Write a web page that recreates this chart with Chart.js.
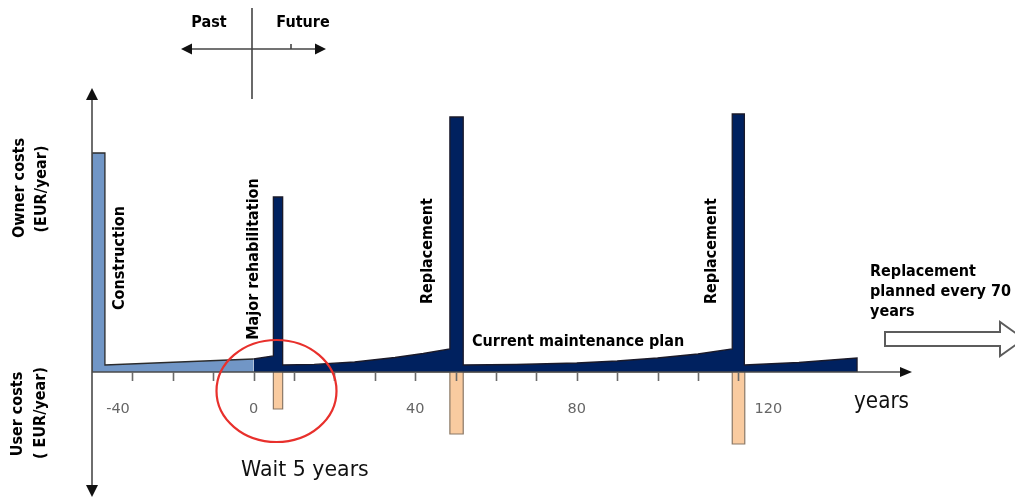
<!DOCTYPE html>
<html><head><meta charset="utf-8">
<script src="https://cdn.jsdelivr.net/npm/chart.js@4.4.0/dist/chart.umd.min.js"></script>
<style>html,body{margin:0;padding:0;background:#fff;overflow:hidden}#wrap{width:1015px;height:502px;position:relative}</style>
</head><body><div id="wrap"><canvas id="c" width="1015" height="502"></canvas></div>
<script>
// ---- data (years / cost in arbitrary units) ----
const constructionYears = [-40, -40, -36.8, -36.8, 0];
const constructionCost  = [0, 219, 219, 7, 13];
const futureYears = [0, 4.9, 4.9, 7.2, 7.2, 15, 25, 35, 42, 48.6, 48.6, 51.9, 51.9, 65, 80, 90, 100, 110, 118.5, 118.5, 121.5, 121.5, 135, 149.4, 149.4];
const futureCost  = [13, 16, 175, 175, 7, 7.6, 10, 14.5, 18.5, 23, 255, 255, 7, 7.5, 9, 11, 14, 18, 23, 258, 258, 7, 9.5, 14, 0];
const userStart = [4.9, 48.6, 118.5];
const userEnd   = [7.2, 51.9, 121.6];
const userCost  = [37, 62, 72];
const tickYears = [-30, -20, -10, 0, 10, 20, 30, 40, 50, 60, 70, 80, 90, 100, 110, 120];
const tickLabels = ['-40', '0', '40', '80', '120'];
const tickLabelYears = [-40, 0, 40, 80, 120];

// ---- build point tables ----
const pts = (xs, ys) => xs.map((x, i) => ({x: x, y: ys[i]}));
const userPts = [];
userStart.forEach((s, i) => {
  userPts.push({x: s, y: 0}, {x: s, y: -userCost[i]}, {x: userEnd[i], y: -userCost[i]}, {x: userEnd[i], y: 0});
});

const CB = '"DejaVu Sans Condensed", "DejaVu Sans", sans-serif';

function setFont(ctx, f, condensed) {
  ctx.font = f;
  try { ctx.fontStretch = condensed ? 'condensed' : 'normal'; } catch (e) {}
}
function fitFont(ctx, txt, weight, family, size, targetW, condensed) {
  setFont(ctx, weight + ' ' + size + 'px ' + family, condensed);
  const w = ctx.measureText(txt).width;
  if (w > targetW * 1.03) setFont(ctx, weight + ' ' + (size * targetW / w).toFixed(2) + 'px ' + family, condensed);
}
function arrowHead(ctx, tx, ty, dir, len, half) {
  ctx.beginPath();
  if (dir === 'up') { ctx.moveTo(tx, ty); ctx.lineTo(tx - half, ty + len); ctx.lineTo(tx + half, ty + len); }
  if (dir === 'down') { ctx.moveTo(tx, ty); ctx.lineTo(tx - half, ty - len); ctx.lineTo(tx + half, ty - len); }
  if (dir === 'right') { ctx.moveTo(tx, ty); ctx.lineTo(tx - len, ty - half); ctx.lineTo(tx - len, ty + half); }
  if (dir === 'left') { ctx.moveTo(tx, ty); ctx.lineTo(tx + len, ty - half); ctx.lineTo(tx + len, ty + half); }
  ctx.closePath(); ctx.fill();
}
function vtext(ctx, txt, x, y) {
  ctx.save(); ctx.translate(x, y); ctx.rotate(-Math.PI / 2);
  ctx.textAlign = 'center'; ctx.textBaseline = 'middle'; ctx.fillText(txt, 0, 0); ctx.restore();
}

const decor = {
  id: 'decor',
  afterDatasetsDraw(chart) {
    const ctx = chart.ctx, xs = chart.scales.x, ys = chart.scales.y, a = chart.chartArea;
    const y0 = ys.getPixelForValue(0), xL = xs.getPixelForValue(-40);
    ctx.save();
    // axes
    ctx.strokeStyle = '#4a4a4a'; ctx.fillStyle = '#111'; ctx.lineWidth = 1.6;
    ctx.beginPath(); ctx.moveTo(xL, a.top + 4); ctx.lineTo(xL, a.bottom - 4); ctx.stroke();
    ctx.beginPath(); ctx.moveTo(xL, y0); ctx.lineTo(a.right - 4, y0); ctx.stroke();
    arrowHead(ctx, xL, a.top, 'up', 12, 6);
    arrowHead(ctx, xL, a.bottom, 'down', 12, 6);
    arrowHead(ctx, a.right, y0, 'right', 12, 5);
    // tick marks
    ctx.strokeStyle = '#6a6a6a'; ctx.lineWidth = 1.6;
    tickYears.forEach(t => {
      const px = Math.round(xs.getPixelForValue(t)) + 0.5;
      ctx.beginPath(); ctx.moveTo(px, y0); ctx.lineTo(px, y0 + 9); ctx.stroke();
    });
    // tick labels
    ctx.fillStyle = '#666'; setFont(ctx, '14.5px "DejaVu Sans", sans-serif', false);
    ctx.textAlign = 'center'; ctx.textBaseline = 'middle';
    const nudge = {'-40': 26, '120': 30};
    tickLabelYears.forEach((t, i) => {
      const px = xs.getPixelForValue(t) + (nudge[tickLabels[i]] || 0);
      ctx.fillText(tickLabels[i], px, y0 + 37);
    });
    ctx.fillStyle = '#111'; ctx.textAlign = 'left';
    fitFont(ctx, 'years', '', '"Liberation Sans Narrow", "DejaVu Sans Condensed", sans-serif', 26, 55, true);
    ctx.fillText('years', 854, 402);
    setFont(ctx, '20.5px "DejaVu Sans", sans-serif', false);
    ctx.fillText('Wait 5 years', 241, 471);
    // bold annotations
    ctx.fillStyle = '#000';
    setFont(ctx, 'bold 16px ' + CB, true);
    vtext(ctx, 'Construction', 120, 258);
    vtext(ctx, 'Major rehabilitation', 254, 259);
    vtext(ctx, 'Replacement', 428, 251);
    vtext(ctx, 'Replacement', 712, 251);
    ctx.textAlign = 'left'; ctx.textBaseline = 'middle';
    ctx.fillText('Current maintenance plan', 472, 342);
    vtext(ctx, 'Owner costs', 20, 188);
    vtext(ctx, '(EUR/year)', 42, 189);
    vtext(ctx, 'User costs', 18, 414);
    vtext(ctx, '( EUR/year)', 41, 413);
    ctx.textAlign = 'center';
    ctx.fillText('Past', 209, 23);
    ctx.fillText('Future', 303, 23);
    ctx.textAlign = 'left';
    fitFont(ctx, 'planned every 70', 'bold', CB, 16, 143, true);
    ctx.fillText('Replacement', 870, 272);
    ctx.fillText('planned every 70', 870, 292);
    ctx.fillText('years', 870, 312);
    // Past / Future cross
    ctx.strokeStyle = '#444'; ctx.fillStyle = '#111'; ctx.lineWidth = 1.6;
    ctx.beginPath(); ctx.moveTo(252, 8); ctx.lineTo(252, 99); ctx.stroke();
    ctx.beginPath(); ctx.moveTo(190, 49); ctx.lineTo(318, 49); ctx.stroke();
    ctx.beginPath(); ctx.moveTo(291, 44); ctx.lineTo(291, 49); ctx.stroke();
    arrowHead(ctx, 181, 49, 'left', 11, 5.5);
    arrowHead(ctx, 326, 49, 'right', 11, 5.5);
    // red ellipse
    ctx.strokeStyle = '#e8302c'; ctx.lineWidth = 2.2;
    ctx.beginPath(); ctx.ellipse(276.5, 391, 60, 51, 0, 0, Math.PI * 2); ctx.stroke();
    // hollow arrow
    ctx.strokeStyle = '#5c5c5c'; ctx.fillStyle = '#fff'; ctx.lineWidth = 2;
    ctx.beginPath();
    ctx.moveTo(885, 332); ctx.lineTo(1000, 332); ctx.lineTo(1000, 322); ctx.lineTo(1024, 339);
    ctx.lineTo(1000, 356); ctx.lineTo(1000, 346); ctx.lineTo(885, 346); ctx.closePath();
    ctx.fill(); ctx.stroke();
    ctx.restore();
  }
};

new Chart(document.getElementById('c'), {
  type: 'scatter',
  data: {
    datasets: [
      {label: 'Construction', data: pts(constructionYears, constructionCost), showLine: true, fill: 'origin',
       backgroundColor: '#7196c6', borderColor: '#2b2b2b', borderWidth: 1.3, pointRadius: 0, tension: 0},
      {label: 'Current maintenance plan', data: pts(futureYears, futureCost), showLine: true, fill: 'origin',
       backgroundColor: '#00215f', borderColor: '#1a1a2a', borderWidth: 1.3, pointRadius: 0, tension: 0},
      {label: 'User costs', data: userPts, showLine: true, fill: 'origin',
       backgroundColor: '#f9cba0', borderColor: '#8a7866', borderWidth: 1.2, pointRadius: 0, tension: 0}
    ]
  },
  options: {
    responsive: false, animation: false, devicePixelRatio: 1,
    layout: {padding: {left: 92, right: 103, top: 88, bottom: 5}},
    plugins: {legend: {display: false}, tooltip: {enabled: false}},
    scales: {
      x: {type: 'linear', display: false, min: -40, max: 163},
      y: {type: 'linear', display: false, min: -125, max: 284}
    }
  },
  plugins: [decor]
});
</script>
</body></html>
